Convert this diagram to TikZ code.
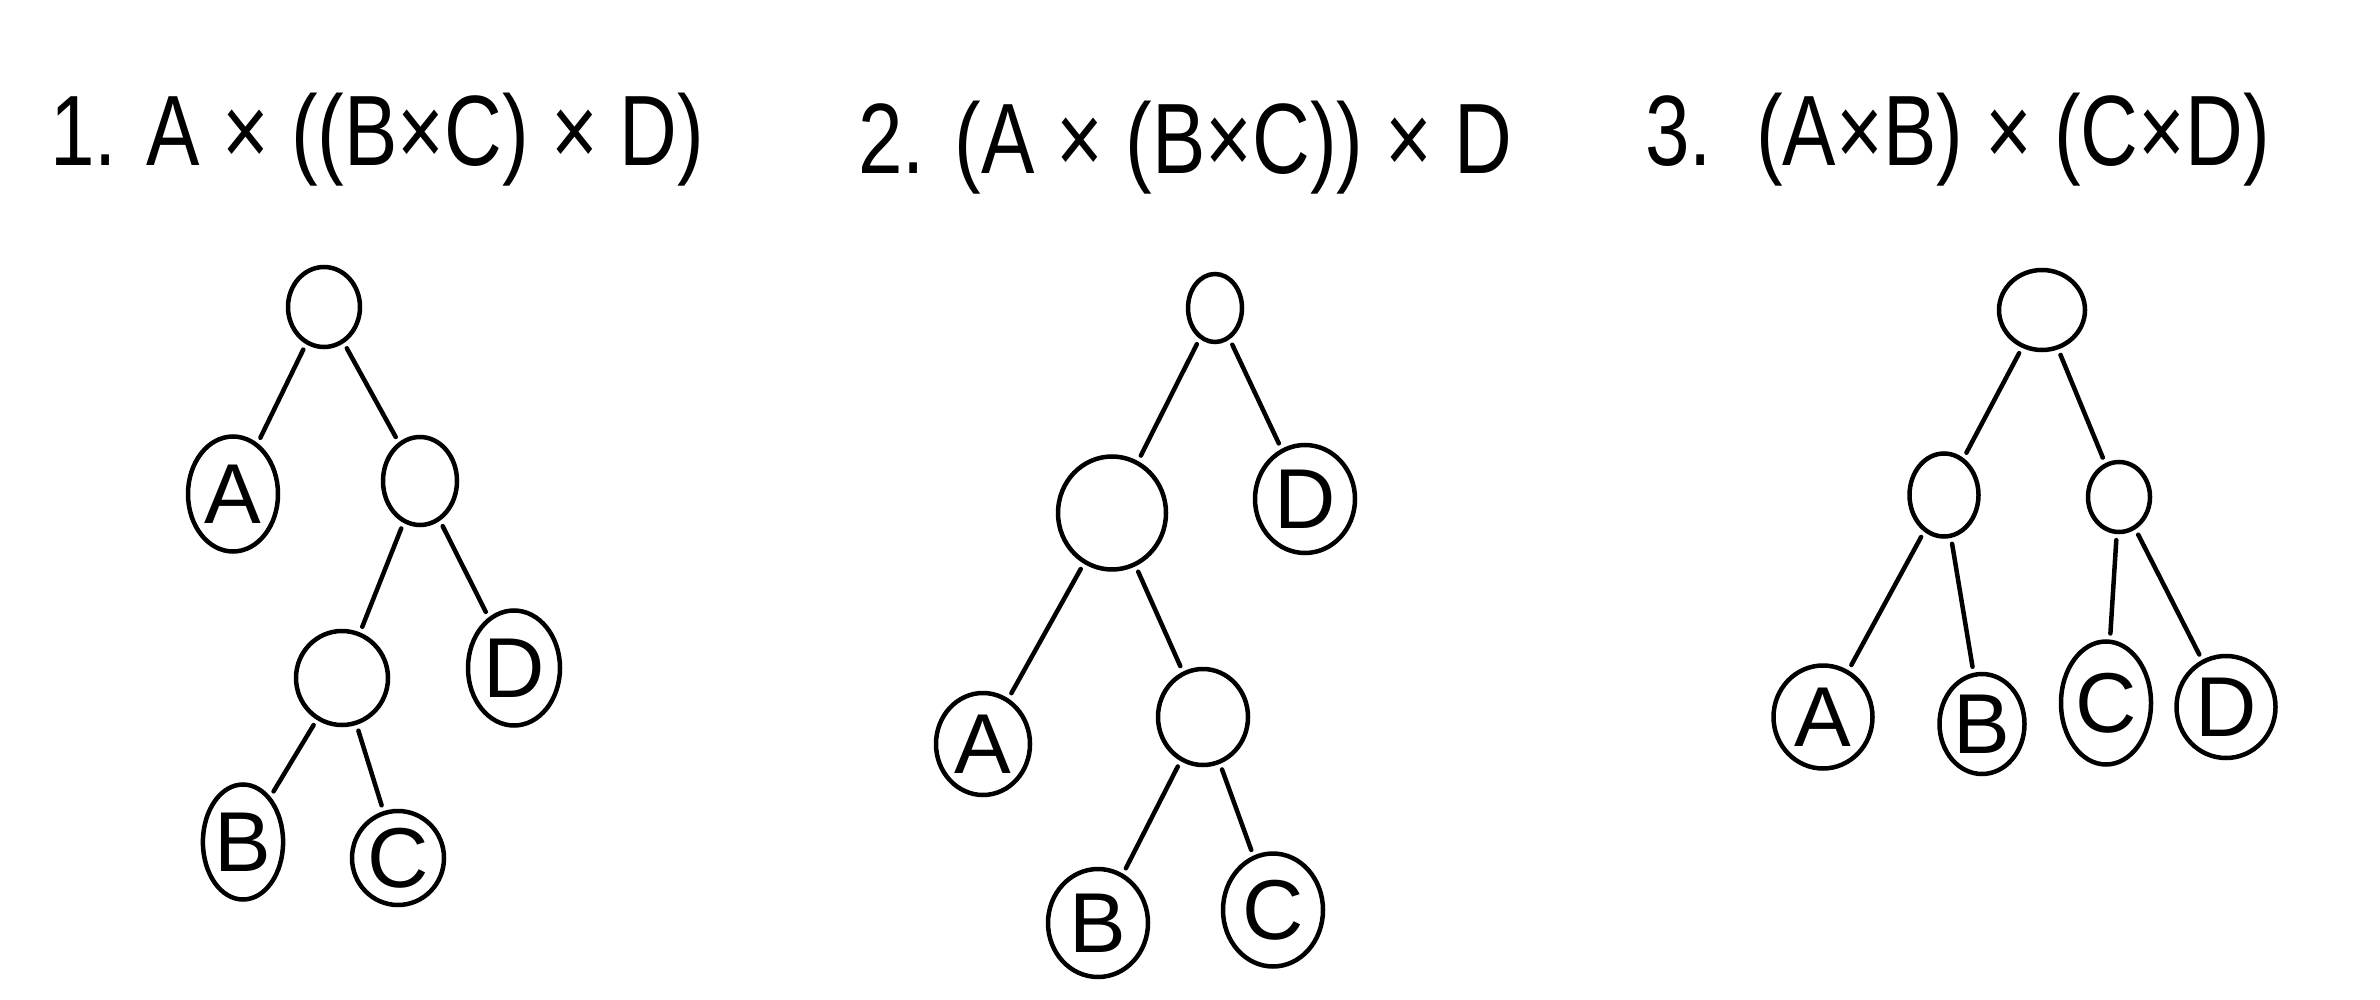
\documentclass[tikz,border=0pt]{standalone}
\usepackage{fontspec}
\setmainfont{Liberation Sans}
\usetikzlibrary{shapes.geometric}
\newcommand{\narrow}[1]{\scalebox{0.8}[1]{#1}}
\begin{document}
\begin{tikzpicture}[x=1pt,y=-1pt,
  nd/.style={draw, ellipse, inner sep=0pt, line width=4.5pt, font=\fontsize{85}{90}\selectfont},
  edge/.style={line width=4.5pt, line cap=round, shorten <=6pt, shorten >=6pt},
  title/.style={font=\fontsize{100}{110}\selectfont, anchor=west, inner sep=0pt}]
\useasboundingbox (0,0) rectangle (2380,1000);
% titles
\node[title] (t1) at (50,140) {\narrow{1. A × ((B×C) × D)}};
\node[title] (t2) at (858,148) {\narrow{2. (A × (B×C)) × D}};
\node[title] (t3) at (1645,140) {\narrow{3.\ \ (A×B) × (C×D)}};
% tree 1
\node[nd, minimum width=72pt, minimum height=80pt] (r1) at (324,307) {};
\node[nd, minimum width=90pt, minimum height=115pt] (a1) at (233,494) {A};
\node[nd, minimum width=74pt, minimum height=88pt] (i1) at (420,481) {};
\node[nd, minimum width=92pt, minimum height=94pt] (j1) at (342,678) {};
\node[nd, minimum width=92pt, minimum height=115pt] (d1) at (514,668) {D};
\node[nd, minimum width=80pt, minimum height=115pt] (b1) at (243,842) {B};
\node[nd, minimum width=92pt, minimum height=94pt] (c1) at (398,858) {C};
\draw[edge] (r1) -- (a1);
\draw[edge] (r1) -- (i1);
\draw[edge] (i1) -- (j1);
\draw[edge] (i1) -- (d1);
\draw[edge] (j1) -- (b1);
\draw[edge] (j1) -- (c1);
% tree 2
\node[nd, minimum width=54pt, minimum height=68pt] (r2) at (1215,308) {};
\node[nd, minimum width=108pt, minimum height=113pt] (i2) at (1112,513) {};
\node[nd, minimum width=100pt, minimum height=108pt] (d2) at (1305,499) {D};
\node[nd, minimum width=94pt, minimum height=102pt] (a2) at (983,744) {A};
\node[nd, minimum width=90pt, minimum height=96pt] (j2) at (1203,717) {};
\node[nd, minimum width=100pt, minimum height=108pt] (b2) at (1098,923) {B};
\node[nd, minimum width=100pt, minimum height=113pt] (c2) at (1273,910) {C};
\draw[edge] (r2) -- (i2);
\draw[edge] (r2) -- (d2);
\draw[edge] (i2) -- (a2);
\draw[edge] (i2) -- (j2);
\draw[edge] (j2) -- (b2);
\draw[edge] (j2) -- (c2);
% tree 3
\node[nd, minimum width=86pt, minimum height=80pt] (r3) at (2042,310) {};
\node[nd, minimum width=69pt, minimum height=83pt] (l3) at (1944,495) {};
\node[nd, minimum width=62pt, minimum height=70pt] (m3) at (2119,497) {};
\node[nd, minimum width=99pt, minimum height=103pt] (a3) at (1823,717) {A};
\node[nd, minimum width=85pt, minimum height=100pt] (b3) at (1982,724) {B};
\node[nd, minimum width=90pt, minimum height=123pt] (c3) at (2106,703) {C};
\node[nd, minimum width=99pt, minimum height=102pt] (d3) at (2226,707) {D};
\draw[edge] (r3) -- (l3);
\draw[edge] (r3) -- (m3);
\draw[edge] (l3) -- (a3);
\draw[edge] (l3) -- (b3);
\draw[edge] (m3) -- (c3);
\draw[edge] (m3) -- (d3);
\end{tikzpicture}
\end{document}
